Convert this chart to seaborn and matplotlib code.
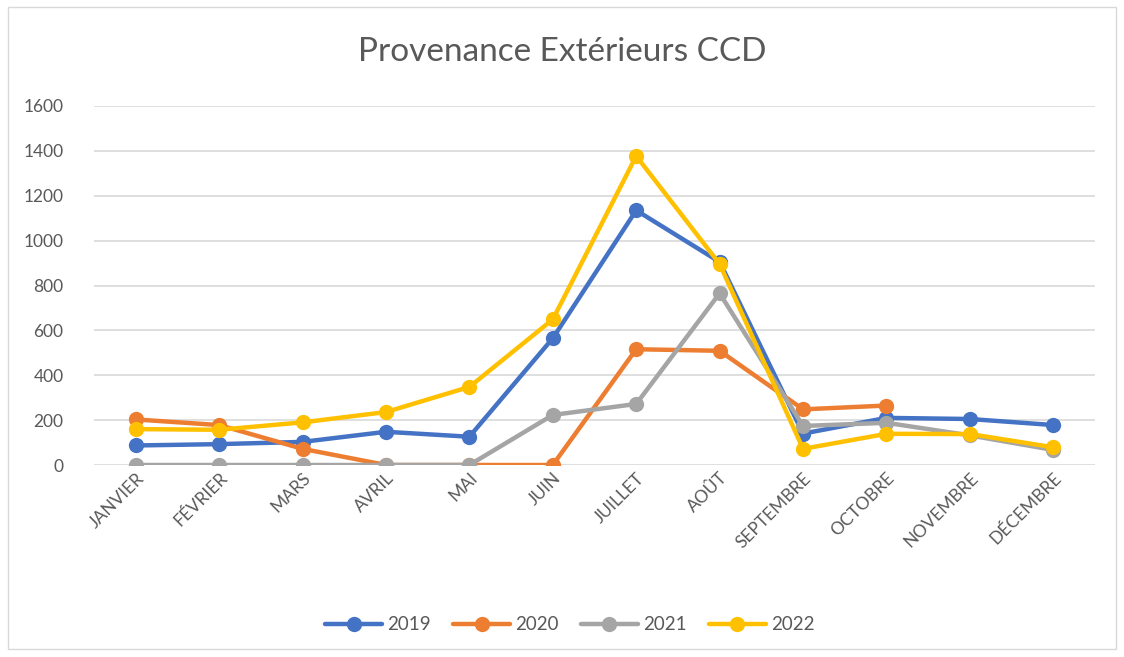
import pandas as pd
import matplotlib.pyplot as plt
import seaborn as sns
import numpy as np
from matplotlib.patches import Rectangle

months = ["JANVIER", "FÉVRIER", "MARS", "AVRIL", "MAI", "JUIN",
          "JUILLET", "AOÛT", "SEPTEMBRE", "OCTOBRE", "NOVEMBRE", "DÉCEMBRE"]
v2019 = [87, 93, 103, 148, 126, 565, 1135, 905, 140, 210, 205, 178]
v2020 = [203, 178, 72, 0, 0, 0, 516, 509, 248, 265, np.nan, np.nan]
v2021 = [0, 0, 0, 0, 0, 223, 272, 765, 174, 188, 132, 67]
v2022 = [160, 157, 190, 236, 348, 649, 1377, 896, 72, 139, 138, 79]
years = ["2019", "2020", "2021", "2022"]
colors = ["#4472C4", "#ED7D31", "#A5A5A5", "#FFC000"]

df = pd.DataFrame({"mois": months * 4,
                   "valeur": v2019 + v2020 + v2021 + v2022,
                   "annee": [y for y in years for _ in months]})

sns.set_style("white")
plt.rcParams["font.family"] = ["Lato", "DejaVu Sans"]

fig = plt.figure(figsize=(11.24, 6.57), dpi=100)
ax = fig.add_axes([94 / 1124, 1 - 465 / 657, 1001 / 1124, 359 / 657])

sns.lineplot(data=df, x="mois", y="valeur", hue="annee", palette=colors,
             sort=False, marker="o", markersize=11, markeredgewidth=0,
             linewidth=3.2, ax=ax, legend=True)

ax.set_ylim(0, 1600)
ax.set_xlim(-0.5, 11.5)
ax.set_yticks(range(0, 1601, 200))
ax.yaxis.grid(True, color="#D9D9D9", linewidth=1.2)
ax.set_axisbelow(True)
for s in ax.spines.values():
    s.set_visible(False)
ax.set_xlabel("")
ax.set_ylabel("")
ax.tick_params(axis="both", length=0, labelsize=12.5, colors="#595959")
ax.tick_params(axis="y", pad=22)
plt.setp(ax.get_xticklabels(), rotation=45, ha="right", rotation_mode="anchor")

fig.suptitle("Provenance Extérieurs CCD", y=1 - 52 / 657, va="center",
             fontsize=24, color="#595959")

handles, labels = ax.get_legend_handles_labels()
ax.legend(handles, labels, loc="center", bbox_to_anchor=(570 / 1124, 1 - 625 / 657),
          bbox_transform=fig.transFigure, ncol=4, frameon=False, fontsize=13.5,
          labelcolor="#595959", handlelength=3.0, columnspacing=1.2, handletextpad=0.3)

fig.patches.append(Rectangle((8 / 1124, 8 / 657), 1108 / 1124, 642 / 657,
                             transform=fig.transFigure, fill=False,
                             edgecolor="#D9D9D9", linewidth=1))

fig.savefig("out.png", dpi=100)
